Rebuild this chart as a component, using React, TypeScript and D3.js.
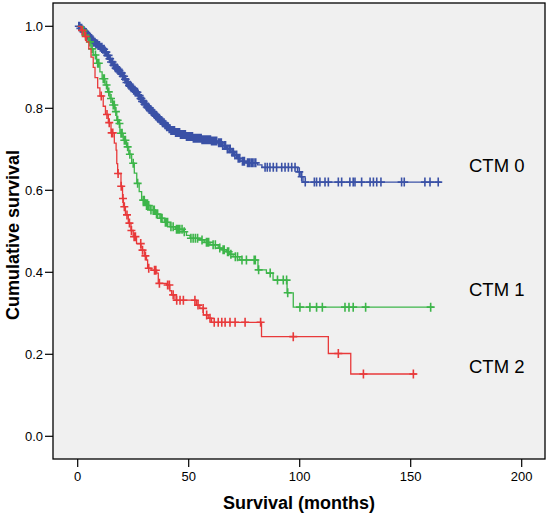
import React from "react";
import * as d3 from "d3";

// ---- Data ----
const xTicks = [0, 50, 100, 150, 200];
const yTicks = [0.0, 0.2, 0.4, 0.6, 0.8, 1.0];

// step events: [time (months), survival after step]
const ctm0Events: [number, number][] = [
  [0, 1.0], [1, 0.995], [2, 0.99], [3, 0.985], [4, 0.979], [5, 0.973], [6, 0.967], [7, 0.961],
  [8, 0.957], [9, 0.953], [10, 0.949], [11, 0.944], [12, 0.937], [13, 0.929], [14, 0.921],
  [15, 0.913], [16, 0.905], [17, 0.898], [18, 0.892], [19, 0.886], [20, 0.878], [21, 0.871],
  [22, 0.863], [23, 0.856], [24, 0.85], [25, 0.844], [26, 0.839], [27, 0.831], [28, 0.824],
  [29, 0.817], [30, 0.81], [31, 0.803], [32, 0.797], [33, 0.792], [34, 0.787], [35, 0.781],
  [36, 0.776], [37, 0.77], [38, 0.765], [39, 0.76], [40, 0.755], [41, 0.75], [42, 0.746],
  [44, 0.741], [46, 0.736], [49, 0.731], [52, 0.727], [56, 0.723], [60, 0.72], [63, 0.716],
  [65, 0.709], [67, 0.701], [69, 0.693], [70.5, 0.686], [72, 0.678], [73.5, 0.671], [76, 0.667],
  [81, 0.662], [83, 0.656], [99, 0.645], [100.5, 0.633], [101.5, 0.62],
];
const ctm0End = 163.5;
const ctm0Censored = [
  0.5, 0.9, 1.2, 1.5, 1.8, 2.2, 2.5, 2.8, 3.1, 3.5, 3.8, 4.1, 4.4, 4.8, 5.1, 5.4, 5.7, 6.1,
  6.4, 6.8, 7.2, 7.5, 7.8, 8.2, 8.5, 8.9, 9.2, 9.5, 9.8, 10.2, 10.5, 10.9, 11.3, 11.6, 11.9,
  12.3, 12.6, 12.9, 13.3, 13.6, 13.9, 14.3, 14.6, 15, 15.4, 15.7, 16.1, 16.4, 16.7, 17.1,
  17.4, 17.8, 18.2, 18.5, 18.8, 19.2, 19.5, 19.9, 20.3, 20.6, 20.9, 21.3, 21.6, 22, 22.4,
  22.7, 23.1, 23.4, 23.7, 24.1, 24.5, 24.8, 25.2, 25.5, 25.8, 26.2, 26.6, 26.9, 27.3, 27.6,
  27.9, 28.3, 28.7, 29, 29.4, 29.7, 30.1, 30.4, 30.8, 31.1, 31.5, 31.8, 32.2, 32.5, 32.9,
  33.2, 33.6, 33.9, 34.3, 34.7, 35.1, 35.4, 35.7, 36.1, 36.4, 36.8, 37.2, 37.5, 37.8, 38.2,
  38.6, 38.9, 39.3, 39.7, 40.1, 40.4, 40.8, 41.2, 41.6, 42, 42.4, 42.8, 43.2, 43.6, 44.1,
  44.4, 44.8, 45.2, 45.5, 45.9, 46.3, 46.7, 47.1, 47.4, 47.8, 48.2, 48.5, 49, 49.4, 49.8,
  50.2, 50.5, 50.9, 51.3, 51.7, 52.1, 52.5, 52.9, 53.3, 53.7, 54.1, 54.4, 54.8, 55.2, 55.6,
  56, 56.4, 56.8, 57.1, 57.5, 57.9, 58.3, 58.6, 59, 59.4, 59.8, 60.3, 60.7, 61.1, 61.5,
  61.9, 62.2, 62.6, 63.5, 64.2, 64.7, 65.3, 66.1, 66.6, 67.4, 68.2, 68.7, 69.5, 70.1, 70.8,
  71.6, 72.3, 73, 74.2, 74.7, 75.1, 76.5, 77, 77.3, 78.1, 78.6, 79.4, 80.2, 84.4, 85.4, 86.6,
  88.1, 89.6, 91.9, 93.4, 94.9, 96.4, 97.9, 99.8, 100.9, 102.5, 106.6, 107.6, 109.1, 111.4,
  112.9, 117.4, 118.9, 122.6, 124.1, 124.9, 127.9, 131.7, 133.2, 134.7, 136.6, 145.9, 147.1,
  156.4, 158.7, 162.4,
];

const ctm1Events: [number, number][] = [
  [0, 1.0], [1.8, 0.99], [3, 0.978], [4.8, 0.962], [6, 0.945], [7, 0.93], [8.5, 0.91],
  [10, 0.889], [11, 0.872], [12.3, 0.857], [13.5, 0.84], [14.5, 0.824], [15.7, 0.808],
  [16.8, 0.792], [17.6, 0.771], [18.3, 0.763], [19, 0.739], [20.5, 0.722], [22, 0.706],
  [23, 0.688], [24.3, 0.666], [25.5, 0.642], [26.6, 0.617], [27.7, 0.597], [28.8, 0.576],
  [30.5, 0.563], [32.6, 0.552], [35, 0.542], [37, 0.532], [39, 0.522], [41.6, 0.511],
  [44, 0.505], [47.6, 0.499], [49, 0.49], [50.6, 0.483], [55, 0.479], [57, 0.473],
  [59.6, 0.467], [63.3, 0.459], [65, 0.455], [67, 0.45], [68.5, 0.444], [70, 0.438],
  [73, 0.43], [81.2, 0.406], [85, 0.398], [88, 0.381], [94.3, 0.35], [97.1, 0.315],
];
const ctm1End = 160.2;
const ctm1Censored = [
  2.5, 3.5, 5.5, 6.5, 8, 9, 9.5, 11.5, 12, 13, 14, 15, 16, 16.5, 17.2, 18, 18.8, 19.5, 20,
  21, 21.5, 22.5, 23.5, 25, 27, 29.5, 30, 31, 31.5, 32, 33, 34, 34.5, 35.5, 36, 37.5, 38,
  39.5, 40, 40.5, 42, 43, 44.5, 45, 45.5, 46, 47, 48, 51, 52, 53, 54, 56, 58, 58.5, 59, 61,
  62, 64, 65.5, 66, 67.5, 68, 69, 71, 72, 74, 76, 79.5, 80, 81.5, 86.7, 90, 92.6, 94.1, 94.6,
  100.1, 104.6, 107.6, 110.2, 120.4, 122.2, 124.1, 129.7, 159,
];

const ctm2Events: [number, number][] = [
  [0, 1.0], [1.5, 0.99], [3, 0.975], [4, 0.962], [5, 0.945], [6, 0.925], [7, 0.9],
  [7.8, 0.875], [9, 0.85], [10, 0.83], [11.5, 0.805], [12.5, 0.785], [13.8, 0.765],
  [15, 0.74], [16.5, 0.715], [17.3, 0.698], [17.6, 0.665], [18, 0.641], [19.5, 0.61],
  [20.2, 0.58], [20.6, 0.56], [21.5, 0.54], [22.8, 0.52], [24, 0.502], [25, 0.487],
  [26.5, 0.47], [28.5, 0.454], [30, 0.44], [31, 0.43], [31.5, 0.41], [33, 0.405],
  [35.6, 0.398], [36.3, 0.373], [40, 0.369], [41.5, 0.355], [42.3, 0.345], [43.8, 0.332],
  [53.5, 0.32], [55, 0.312], [56.6, 0.296], [58.8, 0.288], [60.3, 0.278], [82.8, 0.243],
  [112.9, 0.202], [123, 0.152],
];
const ctm2End = 152.7;
const ctm2Censored = [
  2, 3.6, 10.6, 13.2, 14.2, 15.3, 15.8, 18.2, 19.6, 20.4, 21, 22.2, 23.3, 24.2, 25.4, 26,
  28.4, 29.2, 30.5, 32, 34.6, 35.2, 36.8, 40.5, 41.3, 43, 44.6, 46.1, 47.6, 52.8, 54.2, 56.5,
  58.1, 59.6, 61.5, 63.3, 64.9, 66.4, 68.6, 70.9, 75.4, 82.4, 97.1, 117.4, 128.7, 151.2,
];

const seriesNames = ["CTM 0", "CTM 1", "CTM 2"];
const seriesColors = ["#3a51a6", "#3db54a", "#e8393a"];

const series = [
  { name: seriesNames[0], color: seriesColors[0], events: ctm0Events, end: ctm0End, censored: ctm0Censored },
  { name: seriesNames[1], color: seriesColors[1], events: ctm1Events, end: ctm1End, censored: ctm1Censored },
  { name: seriesNames[2], color: seriesColors[2], events: ctm2Events, end: ctm2End, censored: ctm2Censored },
];

// label anchor values (survival level where each label sits)
const labelLevels = [0.66, 0.358, 0.17];

export default function App() {
  const W = 550, H = 520;
  const plot = { left: 53, right: 545, top: 3, bottom: 459 };
  const x = d3.scaleLinear().domain([0, 200]).range([77.7, 521.7]);
  const y = d3.scaleLinear().domain([0, 1]).range([436.3, 26.3]);

  const line = d3
    .line<[number, number]>()
    .x((d) => x(d[0]))
    .y((d) => y(d[1]))
    .curve(d3.curveStepAfter);

  const survAt = (events: [number, number][], t: number) => {
    let v = events[0][1];
    for (const e of events) if (e[0] <= t) v = e[1];
    return v;
  };

  const font = "Arial, 'Liberation Sans', Helvetica, sans-serif";
  const arm = 4.5;

  return (
    <svg width={W} height={H} style={{ position: "absolute", left: 0, top: 0, background: "#fff" }} fontFamily={font}>
      <rect
        x={plot.left}
        y={plot.top}
        width={plot.right - plot.left}
        height={plot.bottom - plot.top}
        fill="#f0f0f0"
        stroke="#000"
        strokeWidth={1.3}
      />
      {yTicks.map((t) => (
        <g key={"y" + t}>
          <line x1={plot.left - 8} x2={plot.left} y1={y(t)} y2={y(t)} stroke="#000" strokeWidth={1.2} />
          <text x={plot.left - 10} y={y(t)} dy="0.35em" textAnchor="end" fontSize={13} fill="#000">
            {t.toFixed(1)}
          </text>
        </g>
      ))}
      {xTicks.map((t) => (
        <g key={"x" + t}>
          <line x1={x(t)} x2={x(t)} y1={plot.bottom} y2={plot.bottom + 8} stroke="#000" strokeWidth={1.2} />
          <text x={x(t)} y={481} textAnchor="middle" fontSize={13} fill="#000">
            {t}
          </text>
        </g>
      ))}
      {series.map((s) => {
        const pts: [number, number][] = [...s.events, [s.end, s.events[s.events.length - 1][1]]];
        const marks = s.censored
          .map((c) => {
            const cx = x(c), cy = y(survAt(s.events, c));
            return `M${cx},${cy - arm}V${cy + arm}M${cx - arm + 0.5},${cy}H${cx + arm - 0.5}`;
          })
          .join("");
        return (
          <g key={s.name}>
            <path d={line(pts) || ""} fill="none" stroke={s.color} strokeWidth={1.3} />
            <path d={marks} fill="none" stroke={s.color} strokeWidth={1.6} />
          </g>
        );
      })}
      {series.map((s, i) => (
        <text key={"lab" + i} x={469} y={y(labelLevels[i])} dy="0.35em" fontSize={18.5} fill="#000">
          {s.name}
        </text>
      ))}
      <text x={(plot.left + plot.right) / 2} y={509} textAnchor="middle" fontSize={18} fontWeight="bold" fill="#000">
        Survival (months)
      </text>
      <text
        transform={`translate(19, ${(plot.top + plot.bottom) / 2 + 4}) rotate(-90)`}
        textAnchor="middle"
        fontSize={18}
        fontWeight="bold"
        fill="#000"
      >
        Cumulative survival
      </text>
    </svg>
  );
}
